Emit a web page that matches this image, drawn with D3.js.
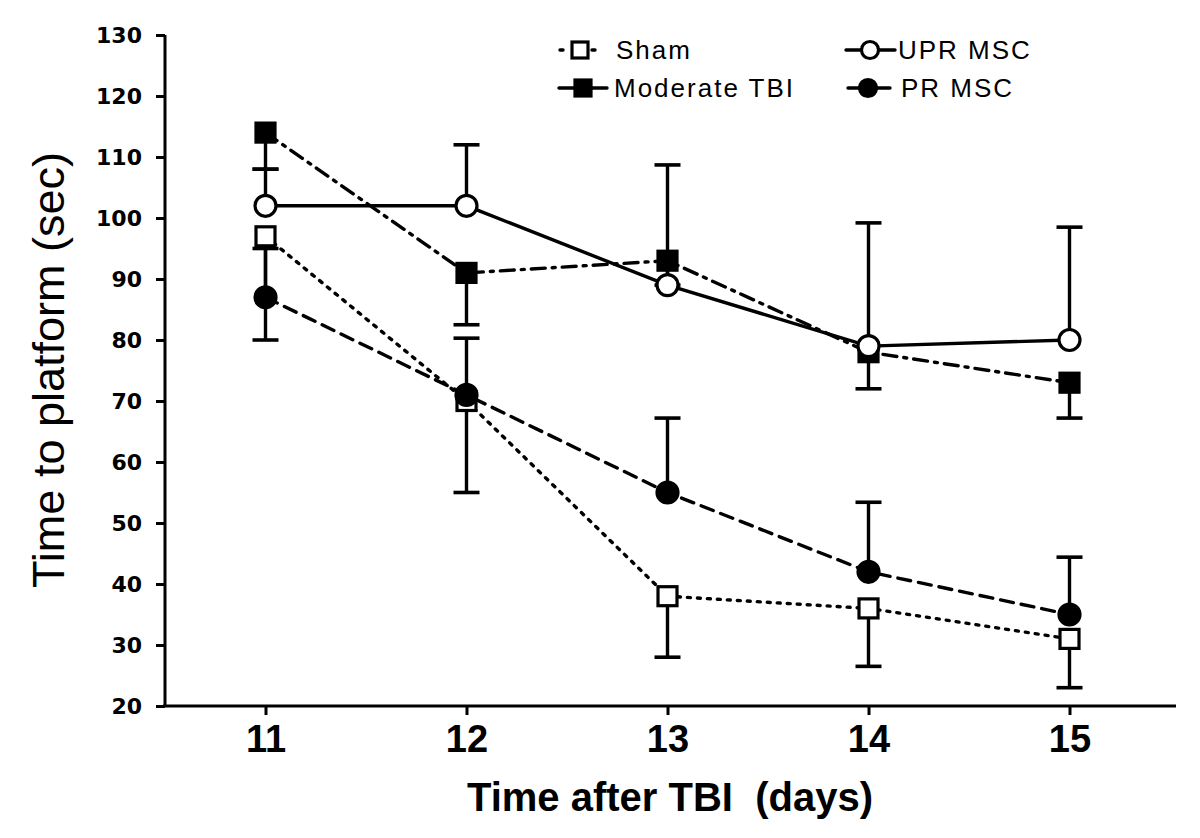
<!DOCTYPE html>
<html><head><meta charset="utf-8">
<script src="https://cdn.jsdelivr.net/npm/d3@7"></script>
<style>
html,body{margin:0;padding:0;background:#fff;}
svg{display:block;}
</style></head>
<body>
<svg id="chart" width="1200" height="838"></svg>
<script>
const days = [11, 12, 13, 14, 15];
const yTicks = [20, 30, 40, 50, 60, 70, 80, 90, 100, 110, 120, 130];

const seriesNames = ["Sham", "Moderate TBI", "UPR MSC", "PR MSC"];
const shamMean = [97, 70, 38, 36, 31];
const shamErrEnd = [80, 55, 28, 26.5, 23];
const tbiMean = [114, 91, 93, 78, 73];
const tbiErrEnd = [108, 82.5, 89, 72, 67.2];
const uprMean = [102, 102, 89, 79, 80];
const uprErrEnd = [108, 112, 108.7, 99.2, 98.5];
const prMean = [87, 71, 55, 42, 35];
const prErrEnd = [95, 80.3, 67.2, 53.4, 44.4];

const svg = d3.select("#chart");
const x = d3.scaleLinear().domain([10.5, 15.5]).range([165, 1170]);
const y = d3.scaleLinear().domain([20, 130]).range([706, 35]);

const series = [
  {name: seriesNames[0], mean: shamMean, err: shamErrEnd, marker: "square", fill: "#fff", dash: "3,7"},
  {name: seriesNames[1], mean: tbiMean, err: tbiErrEnd, marker: "square", fill: "#000", dash: "14,7,3,7"},
  {name: seriesNames[2], mean: uprMean, err: uprErrEnd, marker: "circle", fill: "#fff", dash: null},
  {name: seriesNames[3], mean: prMean, err: prErrEnd, marker: "circle", fill: "#000", dash: "13,8"}
];

// axes
const yAxis = d3.axisLeft(y).tickValues(yTicks).tickSize(9).tickPadding(14).tickFormat(d3.format("d"));
const gy = svg.append("g").attr("transform", "translate(165,0)").call(yAxis);
gy.select(".domain").attr("stroke", "#000").attr("stroke-width", 3).attr("d", "M0," + y(130) + "V" + y(20));
gy.selectAll(".tick line").attr("stroke", "#000").attr("stroke-width", 3);
gy.selectAll(".tick text").attr("font-family", "'DejaVu Sans', sans-serif").attr("font-weight", "bold")
  .attr("font-size", 22).attr("fill", "#000");

const xAxis = d3.axisBottom(x).tickValues(days).tickSize(9).tickPadding(8).tickFormat(d3.format("d"));
const gx = svg.append("g").attr("transform", "translate(0,706)").call(xAxis);
gx.select(".domain").attr("stroke", "#000").attr("stroke-width", 3).attr("d", "M163,0H1176");
gx.selectAll(".tick line").attr("stroke", "#000").attr("stroke-width", 3);
gx.selectAll(".tick text").attr("font-family", "'Liberation Sans Narrow', 'Liberation Sans', Arial, sans-serif")
  .attr("font-weight", "bold").attr("font-size", 38).attr("fill", "#000").attr("dy", "0.75em");

svg.append("text").attr("x", 670).attr("y", 811).attr("text-anchor", "middle")
  .attr("font-family", "'Liberation Sans', Arial, sans-serif").attr("font-weight", "bold")
  .attr("font-size", 40).style("white-space", "pre").text("Time after TBI  (days)");

svg.append("text").attr("transform", "translate(64,370) rotate(-90)").attr("text-anchor", "middle")
  .attr("font-family", "'Liberation Sans', Arial, sans-serif")
  .attr("font-size", 45).text("Time to platform (sec)");

// lines
const line = d3.line().x((d, i) => x(days[i])).y(d => y(d));
series.forEach(s => {
  svg.append("path").datum(s.mean).attr("d", line).attr("fill", "none")
    .attr("stroke", "#000").attr("stroke-width", 3.4)
    .attr("stroke-dasharray", s.dash).attr("stroke-linecap", "round");
});

// error bars
series.forEach(s => {
  const g = svg.append("g");
  s.mean.forEach((m, i) => {
    const cx = x(days[i]);
    g.append("line").attr("x1", cx).attr("x2", cx).attr("y1", y(m)).attr("y2", y(s.err[i]))
      .attr("stroke", "#000").attr("stroke-width", 3.4);
    g.append("line").attr("x1", cx - 13).attr("x2", cx + 13).attr("y1", y(s.err[i])).attr("y2", y(s.err[i]))
      .attr("stroke", "#000").attr("stroke-width", 3.6);
  });
});

// markers
function drawMarker(g, type, cx, cy, fill, size) {
  if (type === "square") {
    g.append("rect").attr("x", cx - size / 2).attr("y", cy - size / 2).attr("width", size).attr("height", size)
      .attr("fill", fill).attr("stroke", "#000").attr("stroke-width", 3.2);
  } else {
    g.append("circle").attr("cx", cx).attr("cy", cy).attr("r", size / 2)
      .attr("fill", fill).attr("stroke", "#000").attr("stroke-width", 3.2);
  }
}
series.forEach(s => {
  const g = svg.append("g");
  s.mean.forEach((m, i) => drawMarker(g, s.marker, x(days[i]), y(m), s.fill, s.marker === "square" ? 19 : 21));
});

// legend
const legend = [
  {s: series[0], lx1: 560, lx2: 604, mx: 580, ly: 50, tx: 616, solid: false},
  {s: series[1], lx1: 559, lx2: 607, mx: 583, ly: 88, tx: 614, solid: true},
  {s: series[2], lx1: 846, lx2: 895, mx: 870, ly: 50, tx: 898, solid: true},
  {s: series[3], lx1: 848, lx2: 890, mx: 868, ly: 88, tx: 901, solid: true}
];
legend.forEach(l => {
  const g = svg.append("g");
  g.append("line").attr("x1", l.lx1).attr("x2", l.lx2).attr("y1", l.ly).attr("y2", l.ly)
    .attr("stroke", "#000").attr("stroke-width", 3.4)
    .attr("stroke-dasharray", l.solid ? null : "3,13").attr("stroke-linecap", "round");
  drawMarker(g, l.s.marker, l.mx, l.ly, l.s.fill, l.s.marker === "square" ? 16 : 17);
  g.append("text").attr("x", l.tx).attr("y", l.ly + 9).attr("font-family", "'Liberation Sans', Arial, sans-serif")
    .attr("font-size", 26).attr("letter-spacing", 2).text(l.s.name);
});
</script>
</body></html>
